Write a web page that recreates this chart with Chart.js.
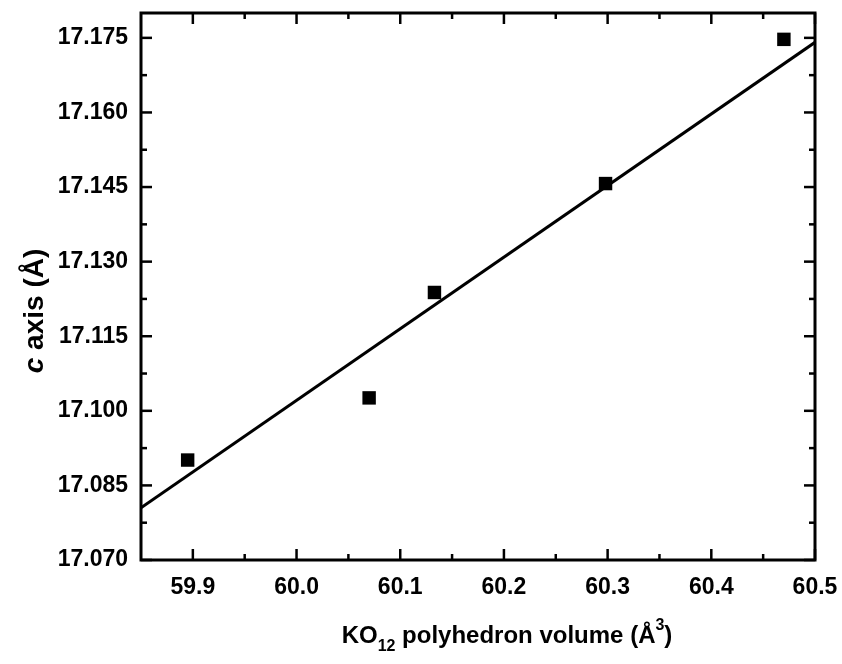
<!DOCTYPE html>
<html>
<head>
<meta charset="utf-8">
<script src="https://cdn.jsdelivr.net/npm/chart.js@4/dist/chart.umd.min.js"></script>
<style>
html,body{margin:0;padding:0;background:#fff;}
canvas{display:block;}
</style>
</head>
<body>
<canvas id="c" width="842" height="664"></canvas>
<script>
// ---- data ----
const volumes = [59.895, 60.070, 60.133, 60.298, 60.470];       // KO12 polyhedron volume (Å^3)
const cAxis   = [17.0901, 17.1026, 17.1238, 17.1457, 17.1747];  // c axis (Å)
const fitX    = [59.85, 60.5];                                   // fitted line endpoints
const fitY    = [17.0805, 17.1741];
const xTicks  = [59.9, 60.0, 60.1, 60.2, 60.3, 60.4, 60.5];
const xMinor  = [59.95, 60.05, 60.15, 60.25, 60.35, 60.45];
const yTicks  = [17.070, 17.085, 17.100, 17.115, 17.130, 17.145, 17.160, 17.175];
const yMinor  = [17.0775, 17.0925, 17.1075, 17.1225, 17.1375, 17.1525, 17.1675];
const xTitleParts = [["KO","n"],["12","sub"],[" polyhedron volume (Å","n"],["3","sup"],[")","n"]];
const yTitleParts = [["c","i"],[" axis (Å)","n"]];

const FONT = "'Liberation Sans', Arial, sans-serif";

const framePlugin = {
  id: 'frame',
  afterDraw(chart) {
    const ctx = chart.ctx, a = chart.chartArea;
    const xs = chart.scales.x, ys = chart.scales.y;
    ctx.save();
    ctx.strokeStyle = '#000';
    ctx.lineCap = 'butt';
    ctx.lineWidth = 2.5;
    const tk = (vals, len, horiz) => {
      vals.forEach(v => {
        if (horiz) {
          const px = xs.getPixelForValue(v);
          ctx.beginPath(); ctx.moveTo(px, a.bottom); ctx.lineTo(px, a.bottom - len); ctx.stroke();
          ctx.beginPath(); ctx.moveTo(px, a.top); ctx.lineTo(px, a.top + len); ctx.stroke();
        } else {
          const py = ys.getPixelForValue(v);
          ctx.beginPath(); ctx.moveTo(a.left, py); ctx.lineTo(a.left + len, py); ctx.stroke();
          ctx.beginPath(); ctx.moveTo(a.right, py); ctx.lineTo(a.right - len, py); ctx.stroke();
        }
      });
    };
    tk(xTicks, 11, true); tk(xMinor, 6, true);
    tk(yTicks, 11, false); tk(yMinor, 6, false);
    ctx.lineWidth = 3;
    ctx.strokeRect(a.left, a.top, a.right - a.left, a.bottom - a.top);
    // x title
    ctx.fillStyle = '#000';
    ctx.textBaseline = 'alphabetic';
    ctx.textAlign = 'left';
    const fontFor = t => t === 'n' ? `bold 24px ${FONT}` : `bold 16px ${FONT}`;
    let total = 0;
    xTitleParts.forEach(([s, t]) => { ctx.font = fontFor(t); total += ctx.measureText(s).width; });
    let x = 507 - total / 2;
    const base = 643;
    xTitleParts.forEach(([s, t]) => {
      ctx.font = fontFor(t);
      const dy = t === 'sub' ? 8 : (t === 'sup' ? -13 : 0);
      ctx.fillText(s, x, base + dy);
      x += ctx.measureText(s).width;
    });
    // y title (rotated)
    ctx.translate(43, 311);
    ctx.rotate(-Math.PI / 2);
    const yFont = t => t === 'i' ? `italic bold 28px ${FONT}` : `bold 28px ${FONT}`;
    total = 0;
    yTitleParts.forEach(([s, t]) => { ctx.font = yFont(t); total += ctx.measureText(s).width; });
    x = -total / 2;
    yTitleParts.forEach(([s, t]) => {
      ctx.font = yFont(t);
      ctx.fillText(s, x, 0);
      x += ctx.measureText(s).width;
    });
    ctx.restore();
  }
};

const zeroPad = s => { s.paddingTop = 0; s.paddingBottom = 0; s.paddingLeft = 0; s.paddingRight = 0; };

new Chart(document.getElementById('c'), {
  type: 'scatter',
  data: {
    datasets: [
      {
        label: 'fit',
        data: fitX.map((v, i) => ({ x: v, y: fitY[i] })),
        showLine: true,
        borderColor: '#000',
        borderWidth: 3,
        pointRadius: 0,
        fill: false,
        order: 2
      },
      {
        label: 'c axis',
        data: volumes.map((v, i) => ({ x: v, y: cAxis[i] })),
        pointStyle: 'rect',
        pointRadius: 9.5,
        pointHoverRadius: 9.5,
        backgroundColor: '#000',
        borderColor: '#000',
        borderWidth: 0,
        order: 1
      }
    ]
  },
  options: {
    responsive: false,
    animation: false,
    events: [],
    layout: { padding: { left: 0, right: 27, top: 13, bottom: 0 } },
    plugins: { legend: { display: false }, tooltip: { enabled: false } },
    scales: {
      x: {
        type: 'linear',
        min: 59.85, max: 60.5,
        grid: { display: false, drawTicks: false },
        border: { display: false },
        afterBuildTicks: s => { s.ticks = xTicks.map(v => ({ value: v })); },
        afterFit: s => { s.height = 104; zeroPad(s); },
        ticks: {
          padding: 14,
          color: '#000',
          font: { family: FONT, size: 23, weight: 'bold' },
          maxRotation: 0,
          callback: v => Number(v).toFixed(1)
        }
      },
      y: {
        type: 'linear',
        min: 17.07, max: 17.18,
        grid: { display: false, drawTicks: false },
        border: { display: false },
        afterBuildTicks: s => { s.ticks = yTicks.map(v => ({ value: v })); },
        afterFit: s => { s.width = 141; zeroPad(s); },
        ticks: {
          padding: 13,
          color: '#000',
          font: { family: FONT, size: 23, weight: 'bold' },
          callback: v => Number(v).toFixed(3)
        }
      }
    }
  },
  plugins: [framePlugin]
});
</script>
</body>
</html>
